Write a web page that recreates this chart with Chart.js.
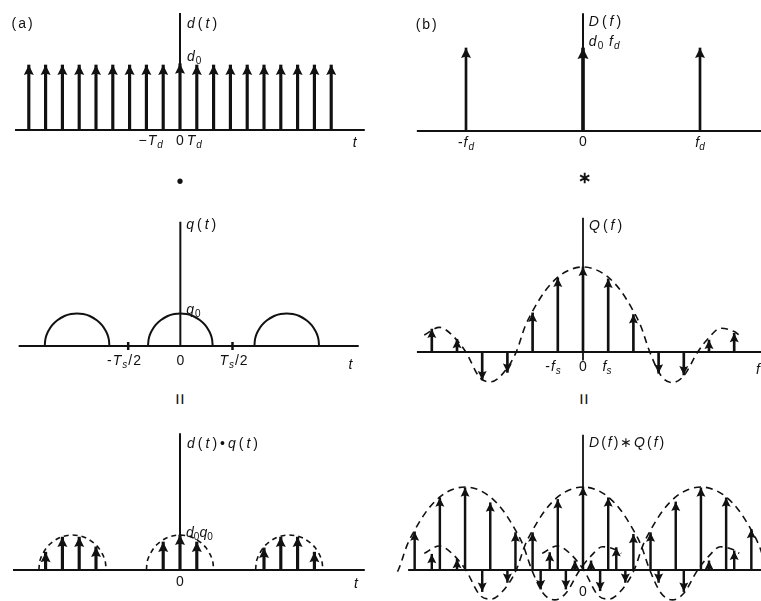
<!DOCTYPE html>
<html>
<head>
<meta charset="utf-8">
<script src="https://cdn.jsdelivr.net/npm/chart.js"></script>
<style>
html, body { margin: 0; padding: 0; background: #fff; }
#wrap { position: relative; width: 761px; height: 601px; overflow: hidden; }
#wrap canvas { position: absolute; }
.sep { position: absolute; font-family: "Liberation Sans", sans-serif; color: #111; line-height: 1; }
</style>
</head>
<body>
<div id="wrap">
  <canvas id="a1" width="380" height="172" style="left:0;top:0"></canvas>
  <canvas id="b1" width="365" height="172" style="left:396px;top:0"></canvas>
  <canvas id="a2" width="380" height="200" style="left:0;top:190px"></canvas>
  <canvas id="b2" width="365" height="200" style="left:396px;top:190px"></canvas>
  <canvas id="a3" width="380" height="191" style="left:0;top:410px"></canvas>
  <canvas id="b3" width="365" height="191" style="left:396px;top:410px"></canvas>
  <div class="sep" style="left:180px;top:181px;font-size:20px;transform:translate(-50%,-50%)">•</div>
  <div class="sep" style="left:584px;top:178px;font-size:16px;font-weight:bold;transform:translate(-50%,-50%)">∗</div>
  <div class="sep" style="left:180px;top:399px;font-size:20px;transform:translate(-50%,-50%) rotate(90deg)">=</div>
  <div class="sep" style="left:584px;top:399px;font-size:20px;transform:translate(-50%,-50%) rotate(90deg)">=</div>
</div>
<script>
// ---- (a) d(t): impulse train, time in Td, height in d0
const dTimes   = [-9, -8, -7, -6, -5, -4, -3, -2, -1, 0, 1, 2, 3, 4, 5, 6, 7, 8, 9];
const dHeights = [1, 1, 1, 1, 1, 1, 1, 1, 1, 1.02, 1, 1, 1, 1, 1, 1, 1, 1, 1];

// ---- (b) D(f): frequency in fd, height in d0*fd
const DFreqs   = [-1, 0, 1];
const DHeights = [1, 1, 1];

// ---- (a) q(t): one arch per period, time in Ts, height in q0
const qCentres   = [-0.99, 0, 1.02];
const qHalfWidth = 0.31;
const TsTicks    = [-0.5, 0.5];
// arch outline, relative units
const archU = [-1, -0.985, -0.94, -0.87, -0.77, -0.61, -0.39, -0.19, 0, 0.19, 0.39, 0.61, 0.77, 0.87, 0.94, 0.985, 1];
const archH = [0, 0.18, 0.35, 0.49, 0.64, 0.79, 0.92, 0.98, 1, 0.98, 0.92, 0.79, 0.64, 0.49, 0.35, 0.18, 0];

// ---- (b) Q(f): samples at multiples of fs, height relative to Q(0)
const QFreqs = [-6, -5, -4, -3, -2, -1, 0, 1, 2, 3, 4, 5, 6];
const QVals  = [0.27, 0.15, -0.33, -0.24, 0.46, 0.87, 1, 0.86, 0.44, -0.25, -0.27, 0.14, 0.22];
// dashed envelope
const QEnvF = [-6.3, -5.7, -5.2, -4.65, -4.1, -3.65, -3.2, -2.65, -2.3, -2, -1.5, -1, -0.5, 0, 0.5, 1, 1.5, 2, 2.3, 2.65, 3.1, 3.55, 4, 4.55, 5, 5.45, 6, 6.2];
const QEnvV = [0.2, 0.29, 0.2, 0, -0.3, -0.35, -0.26, 0, 0.3, 0.48, 0.72, 0.88, 0.97, 1, 0.97, 0.88, 0.72, 0.48, 0.3, 0, -0.28, -0.36, -0.28, 0, 0.17, 0.28, 0.24, 0.2];

// ---- (a) d(t)q(t): samples, time in Td, height in d0*q0
const dqTimes     = [-8, -7, -6, -5, -1, 0, 1, 5, 6, 7, 8];
const dqVals      = [0.51, 0.94, 0.94, 0.66, 0.8, 1, 0.8, 0.63, 0.94, 0.94, 0.51];
const dqCentres   = [-6.4, 0, 6.5];
const dqHalfWidth = 2.0;

// ---- (b) D(f)*Q(f): copies of Q(f) centred at -fd, 0, fd (frequency in fs)
const DQCopies = [-4.68, 0, 4.68];
const DQLeftN  = [-2, -1, 0, 1, 2, 3, 4, 5, 6];
const DQLeftV  = [0.46, 0.87, 0.99, 0.81, 0.45, -0.23, -0.23, 0.11, 0.27];
const DQMidN   = [-6, -5, -4, -3, -2, -1, 0, 1, 2, 3, 4, 5, 6];
const DQMidV   = [0.19, 0.13, -0.26, -0.15, 0.45, 0.85, 1, 0.87, 0.43, -0.15, -0.26, 0.11, 0.23];
const DQRightN = [-6, -5, -4, -3, -2, -1, 0, 1, 2];
const DQRightV = [0.21, 0.11, -0.25, -0.15, 0.45, 0.82, 0.99, 0.87, 0.49];

const INK = '#111';

// map a canvas so that (ox, oy) is the origin, sx/sy pixels per unit
function frame(ox, oy, sx, sy, w, h) {
  return { x: { min: -ox / sx, max: (w - ox) / sx }, y: { min: -(h - oy) / sy, max: oy / sy } };
}

function pts(xs, ys) { return xs.map((x, i) => ({ x: x, y: ys[i] })); }

function stems(xs, ys, w, head) {
  return { type: 'bar', data: pts(xs, ys), backgroundColor: INK, barThickness: w, grouped: false, arrow: head || 9 };
}
function curve(xs, ys, w, dash) {
  return { type: 'line', data: pts(xs, ys), borderColor: INK, borderWidth: w, borderDash: dash || [],
           pointRadius: 0, fill: false, cubicInterpolationMode: 'monotone' };
}
function segment(x0, y0, x1, y1, w) {
  return { type: 'line', data: [{ x: x0, y: y0 }, { x: x1, y: y1 }], borderColor: INK, borderWidth: w, pointRadius: 0, tension: 0 };
}

// arrowheads on top of every bar of datasets that ask for them
const arrowHeads = {
  id: 'arrowHeads',
  afterDatasetsDraw(chart) {
    const ctx = chart.ctx;
    chart.data.datasets.forEach((ds, i) => {
      if (!ds.arrow) return;
      const L = ds.arrow, W = ds.arrow * 0.5;
      chart.getDatasetMeta(i).data.forEach(bar => {
        const dir = bar.y <= bar.base ? 1 : -1;
        ctx.save();
        ctx.fillStyle = INK;
        ctx.beginPath();
        ctx.moveTo(bar.x, bar.y);
        ctx.lineTo(bar.x + W, bar.y + dir * L);
        ctx.lineTo(bar.x, bar.y + dir * (L - 1.5));
        ctx.lineTo(bar.x - W, bar.y + dir * L);
        ctx.closePath();
        ctx.fill();
        ctx.restore();
      });
    });
  }
};

// text with italic letters and "_x" subscripts
function drawRich(ctx, str, x, y, align, sp, roman) {
  const toks = [];
  for (let i = 0; i < str.length; i++) {
    let ch = str[i], sub = false;
    if (ch === '_') { sub = true; ch = str[++i]; }
    toks.push({ ch: ch, sub: sub });
  }
  const fontOf = t => ((!roman && /[a-zA-Z]/.test(t.ch)) ? 'italic ' : '') + (t.sub ? '10px' : '14px') + ' "Liberation Sans", "DejaVu Sans", sans-serif';
  ctx.save();
  ctx.fillStyle = INK;
  ctx.textBaseline = 'middle';
  ctx.textAlign = 'left';
  const ws = toks.map(t => { ctx.font = fontOf(t); return ctx.measureText(t.ch).width; });
  const total = ws.reduce((a, b) => a + b, 0) + sp * (toks.length - 1);
  let cx = align === 'left' ? x : align === 'right' ? x - total : x - total / 2;
  toks.forEach((t, k) => {
    ctx.font = fontOf(t);
    ctx.fillText(t.ch, cx, y + (t.sub ? 4 : 0));
    cx += ws[k] + sp;
  });
  ctx.restore();
}

function texts(items) {
  return {
    id: 'texts',
    afterDraw(chart) {
      const xs = chart.scales.x, ys = chart.scales.y;
      items.forEach(l => drawRich(chart.ctx, l.t, xs.getPixelForValue(l.x), ys.getPixelForValue(l.y),
                                  l.align || 'center', l.sp || 0, l.r));
    }
  };
}

function makeChart(id, fr, datasets, labels) {
  return new Chart(document.getElementById(id), {
    type: 'bar',
    data: { datasets: datasets },
    options: {
      responsive: false,
      animation: false,
      events: [],
      layout: { padding: 0 },
      scales: {
        x: { type: 'linear', min: fr.x.min, max: fr.x.max, offset: false, display: false },
        y: { type: 'linear', min: fr.y.min, max: fr.y.max, display: false }
      },
      plugins: { legend: { display: false }, tooltip: { enabled: false } }
    },
    plugins: [arrowHeads, texts(labels)]
  });
}

// (a) top: d(t)
makeChart('a1', frame(180, 130, 16.8, 65, 380, 172), [
  segment(-9.82, 0, 11.0, 0, 2),
  segment(0, 0, 0, 1.8, 2),
  stems(dTimes, dHeights, 2.5, 10)
], [
  { t: '(a)', x: -9.4, y: 1.63, sp: 2, r: true },
  { t: 'd(t)', x: 0.42, y: 1.63, align: 'left', sp: 3 },
  { t: 'd_0', x: 0.42, y: 1.12, align: 'left', sp: 1 },
  { t: '−T_d', x: -1.75, y: -0.17, sp: 1 },
  { t: '0', x: 0, y: -0.17 },
  { t: 'T_d', x: 0.85, y: -0.17, sp: 1 },
  { t: 't', x: 10.4, y: -0.2 }
]);

// (b) top: D(f)
makeChart('b1', frame(187, 131, 117, 83, 365, 172), [
  segment(-1.42, 0, 1.6, 0, 2),
  segment(0, 0, 0, 1.42, 2),
  stems([DFreqs[0], DFreqs[2]], [DHeights[0], DHeights[2]], 2, 10),
  stems([DFreqs[1]], [DHeights[1]], 3, 11)
], [
  { t: '(b)', x: -1.34, y: 1.28, sp: 2, r: true },
  { t: 'D(f)', x: 0.05, y: 1.31, align: 'left', sp: 3 },
  { t: 'd_0 f_d', x: 0.05, y: 1.07, align: 'left', sp: 1 },
  { t: '-f_d', x: -1, y: -0.15, sp: 1 },
  { t: '0', x: 0, y: -0.14 },
  { t: 'f_d', x: 1, y: -0.15 }
]);

// (a) middle: q(t)
const qArches = qCentres.map(c => curve(archU.map(u => c + u * qHalfWidth), archH, 2));
makeChart('a2', frame(180, 160, 108, 35, 380, 200), [
  segment(-1.55, 0, 1.71, 0, 2),
  segment(0, 0, 0, 3.8, 2),
  ...qArches,
  { type: 'line', data: TsTicks.map(x => ({ x: x, y: 0 })), showLine: false, pointStyle: 'line',
    rotation: 90, pointRadius: 4, borderColor: INK, borderWidth: 2.5 }
], [
  { t: 'q(t)', x: 0.056, y: 3.69, align: 'left', sp: 3 },
  { t: 'q_0', x: 0.056, y: 1.11, align: 'left', sp: 1 },
  { t: '-T_s/2', x: -0.54, y: -0.46, sp: 1 },
  { t: '0', x: 0, y: -0.46 },
  { t: 'T_s/2', x: 0.51, y: -0.46, sp: 1 },
  { t: 't', x: 1.63, y: -0.57 }
]);

// (b) middle: Q(f)
makeChart('b2', frame(187, 162, 25.2, 85, 365, 200), [
  segment(-6.59, 0, 7.3, 0, 2),
  segment(0, -0.1, 0, 1.58, 1.8),
  curve(QEnvF, QEnvV, 1.6, [7, 5]),
  stems(QFreqs, QVals, 2, 9)
], [
  { t: 'Q(f)', x: 0.24, y: 1.48, align: 'left', sp: 3 },
  { t: '-f_s', x: -1.19, y: -0.18, sp: 1 },
  { t: '0', x: 0, y: -0.18 },
  { t: 'f_s', x: 0.95, y: -0.18 },
  { t: 'f', x: 6.94, y: -0.21 }
]);

// (a) bottom: d(t)q(t)
const dqArches = dqCentres.map(c => curve(archU.map(u => c + u * dqHalfWidth), archH, 1.6, [5, 4]));
makeChart('a3', frame(180, 160, 16.8, 35, 380, 191), [
  segment(-9.94, 0, 11.0, 0, 2),
  segment(0, 0, 0, 3.91, 2),
  ...dqArches,
  stems(dqTimes, dqVals, 2.5, 10)
], [
  { t: 'd(t)•q(t)', x: 0.42, y: 3.6, align: 'left', sp: 3 },
  { t: 'd_0q_0', x: 0.36, y: 1.06, align: 'left' },
  { t: '0', x: 0, y: -0.34 },
  { t: 't', x: 10.48, y: -0.4 }
]);

// (b) bottom: D(f)*Q(f)
const dqEnvs = DQCopies.map(c => curve(QEnvF.map(f => f + c), QEnvV, 1.6, [7, 5]));
makeChart('b3', frame(187, 160, 25.2, 83, 365, 191), [
  segment(-6.94, 0, 7.3, 0, 2),
  segment(0, 0, 0, 1.63, 1.8),
  ...dqEnvs,
  stems(DQLeftN.map(n => n + DQCopies[0]), DQLeftV, 1.8, 9),
  stems(DQMidN.map(n => n + DQCopies[1]), DQMidV, 1.8, 9),
  stems(DQRightN.map(n => n + DQCopies[2]), DQRightV, 1.8, 9)
], [
  { t: 'D(f)∗Q(f)', x: 0.24, y: 1.53, align: 'left', sp: 2 },
  { t: '0', x: 0, y: -0.27 }
]);
</script>
</body>
</html>
